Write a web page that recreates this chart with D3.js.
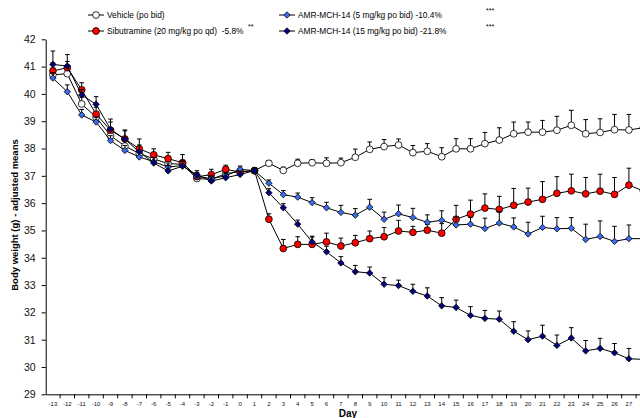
<!DOCTYPE html>
<html>
<head>
<meta charset="utf-8">
<script src="https://cdn.jsdelivr.net/npm/d3@7"></script>
<style>
  body { margin: 0; background: #fff; }
  svg { display: block; font-family: Arial, "Liberation Sans", sans-serif; }
</style>
</head>
<body>
<script>
// days on the x axis (28 is cut off at the right edge)
const days = d3.range(-13, 29);

// adjusted means, one value per day
const vehicle = [40.70, 40.74, 39.63, 39.15, 38.47, 38.09, 37.82, 37.62, 37.45, 37.42,
  36.90, 36.87, 37.08, 37.15, 37.19, 37.46, 37.20, 37.46, 37.48, 37.46,
  37.48, 37.68, 37.97, 38.07, 38.13, 37.85, 37.90, 37.70, 37.99, 37.99,
  38.18, 38.31, 38.54, 38.60, 38.60, 38.67, 38.85, 38.54, 38.59, 38.69, 38.68, 38.76];
const sibutramine = [40.84, 40.96, 40.15, 39.26, 38.67, 38.35, 37.99, 37.77, 37.63, 37.48,
  36.97, 37.04, 37.24, 37.14, 37.19, 35.41, 34.34, 34.49, 34.49, 34.58,
  34.43, 34.55, 34.70, 34.77, 34.98, 34.93, 35.01, 34.90, 35.41, 35.60,
  35.82, 35.77, 35.92, 36.04, 36.14, 36.36, 36.45, 36.34, 36.44, 36.32, 36.66, 36.45];
const amr5 = [40.58, 40.08, 39.23, 38.97, 38.29, 37.93, 37.69, 37.52, 37.32, 37.38,
  36.98, 36.90, 37.00, 37.24, 37.19, 36.73, 36.31, 36.22, 36.02, 35.83,
  35.66, 35.56, 35.85, 35.41, 35.61, 35.47, 35.30, 35.37, 35.20, 35.23,
  35.07, 35.27, 35.13, 34.87, 35.11, 35.06, 35.08, 34.67, 34.78, 34.60, 34.70, 34.70];
const amr15 = [41.08, 41.02, 39.96, 39.62, 38.71, 38.34, 37.88, 37.47, 37.18, 37.35,
  37.04, 36.81, 36.93, 37.05, 37.19, 36.38, 35.83, 35.23, 34.58, 34.22,
  33.81, 33.49, 33.44, 33.03, 32.98, 32.77, 32.60, 32.24, 32.18, 31.89,
  31.78, 31.75, 31.31, 31.00, 31.13, 30.79, 31.06, 30.59, 30.68, 30.52, 30.30, 30.28];

// SEM (upper error bars only)
const vehicleErr = [0.25, 0.30, 0.25, 0.20, 0.20, 0.20, 0.20, 0.20, 0.18, 0.15,
  0.12, 0.12, 0.12, 0.12, 0.10, 0.10, 0.12, 0.15, 0.12, 0.20,
  0.17, 0.30, 0.27, 0.26, 0.22, 0.26, 0.28, 0.33, 0.37, 0.37,
  0.41, 0.45, 0.43, 0.37, 0.43, 0.51, 0.55, 0.52, 0.50, 0.56, 0.57, 0.57];
const sibutramineErr = [0.30, 0.23, 0.26, 0.25, 0.30, 0.30, 0.36, 0.22, 0.23, 0.30,
  0.15, 0.20, 0.15, 0.15, 0.10, 0.20, 0.33, 0.28, 0.30, 0.32,
  0.29, 0.27, 0.28, 0.34, 0.39, 0.22, 0.21, 0.35, 0.51, 0.51,
  0.52, 0.48, 0.62, 0.51, 0.65, 0.61, 0.61, 0.60, 0.62, 0.62, 0.62, 0.60];
const amr5Err = [0.20, 0.25, 0.20, 0.18, 0.18, 0.18, 0.18, 0.15, 0.15, 0.15,
  0.12, 0.12, 0.12, 0.12, 0.10, 0.12, 0.15, 0.15, 0.18, 0.20,
  0.26, 0.24, 0.29, 0.26, 0.32, 0.34, 0.27, 0.35, 0.30, 0.24,
  0.38, 0.43, 0.33, 0.43, 0.41, 0.41, 0.39, 0.56, 0.57, 0.55, 0.50, 0.50];
const amr15Err = [0.49, 0.42, 0.20, 0.28, 0.37, 0.34, 0.25, 0.20, 0.20, 0.20,
  0.15, 0.15, 0.15, 0.12, 0.10, 0.15, 0.15, 0.15, 0.18, 0.20,
  0.23, 0.23, 0.22, 0.24, 0.20, 0.26, 0.30, 0.30, 0.27, 0.32,
  0.29, 0.30, 0.35, 0.32, 0.40, 0.38, 0.38, 0.38, 0.37, 0.34, 0.38, 0.38];

// y tick labels
const yTicks = d3.range(29, 43);

// series list for drawing
const series = [
  { name: 'Vehicle (po bid)', values: vehicle, err: vehicleErr, fill: '#ffffff', shape: 'circle' },
  { name: 'Sibutramine (20 mg/kg po qd)  -5.8%', values: sibutramine, err: sibutramineErr, fill: '#ff0000', shape: 'circle' },
  { name: 'AMR-MCH-14 (5 mg/kg po bid) -10.4%', values: amr5, err: amr5Err, fill: '#3a6cf0', shape: 'diamond' },
  { name: 'AMR-MCH-14 (15 mg/kg po bid) -21.8%', values: amr15, err: amr15Err, fill: '#000080', shape: 'diamond' }
];

const w = 640;
const h = 418;

const svg = d3.select('body')
  .append('svg')
  .attr('width', w)
  .attr('height', h);

// x scale: one band per day, points at band centres
const xScale = d3.scaleBand()
  .domain(days)
  .range([45.7, 45.7 + days.length * 14.4]);

// y scale
const yScale = d3.scaleLinear()
  .domain([29, 42])
  .range([394.3, 39.3]);

const xc = d => xScale(d) + xScale.bandwidth() / 2;

// y axis
const yAxisG = svg.append('g')
  .attr('transform', `translate(${xScale.range()[0]},0)`)
  .call(d3.axisLeft(yScale).tickValues(yTicks).tickSize(4).tickSizeOuter(0).tickPadding(6));
yAxisG.selectAll('text').attr('font-size', 10.5).attr('fill', '#111');

// x axis labels (centred in the bands)
const xAxisG = svg.append('g')
  .attr('transform', `translate(0,${yScale(29)})`)
  .call(d3.axisBottom(xScale).tickSize(0).tickPadding(7));
xAxisG.selectAll('text').attr('font-size', 6).attr('fill', '#111');

// x tick marks at the band edges
xAxisG.selectAll('line.edge')
  .data(days.slice(1))
  .enter()
  .append('line')
  .attr('class', 'edge')
  .attr('x1', d => xScale(d))
  .attr('x2', d => xScale(d))
  .attr('y1', 0)
  .attr('y2', 4)
  .attr('stroke', '#000');

svg.selectAll('.domain').attr('stroke', '#000');

// axis titles
svg.append('text')
  .attr('x', 348)
  .attr('y', 417)
  .attr('text-anchor', 'middle')
  .attr('font-size', 10)
  .attr('font-weight', 'bold')
  .text('Day');

svg.append('text')
  .attr('transform', 'translate(18,215) rotate(-90)')
  .attr('text-anchor', 'middle')
  .attr('font-size', 9.5)
  .attr('font-weight', 'bold')
  .text('Body weight (g) - adjusted means');

const line = d3.line()
  .x((d, i) => xc(days[i]))
  .y(d => yScale(d));

const diamond = d3.symbol().type(d3.symbolDiamond2).size(26);

// one group per series: line, error bars, markers
series.forEach(s => {
  const g = svg.append('g');

  g.append('path')
    .datum(s.values)
    .attr('d', line)
    .attr('fill', 'none')
    .attr('stroke', '#000')
    .attr('stroke-width', 1);

  const bars = g.selectAll('g.err')
    .data(s.values)
    .enter()
    .append('g')
    .attr('class', 'err');
  bars.append('line')
    .attr('x1', (d, i) => xc(days[i]))
    .attr('x2', (d, i) => xc(days[i]))
    .attr('y1', d => yScale(d))
    .attr('y2', (d, i) => yScale(d + s.err[i]))
    .attr('stroke', '#000');
  bars.append('line')
    .attr('x1', (d, i) => xc(days[i]) - 2.3)
    .attr('x2', (d, i) => xc(days[i]) + 2.3)
    .attr('y1', (d, i) => yScale(d + s.err[i]))
    .attr('y2', (d, i) => yScale(d + s.err[i]))
    .attr('stroke', '#000');

  if (s.shape === 'circle') {
    g.selectAll('circle')
      .data(s.values)
      .enter()
      .append('circle')
      .attr('cx', (d, i) => xc(days[i]))
      .attr('cy', d => yScale(d))
      .attr('r', 3.4)
      .attr('fill', s.fill)
      .attr('stroke', '#000')
      .attr('stroke-width', 0.8);
  } else {
    g.selectAll('path.mk')
      .data(s.values)
      .enter()
      .append('path')
      .attr('class', 'mk')
      .attr('d', diamond)
      .attr('transform', (d, i) => `translate(${xc(days[i])},${yScale(d)})`)
      .attr('fill', s.fill)
      .attr('stroke', '#000')
      .attr('stroke-width', 0.8);
  }
});

// legend: two columns, two rows (text squeezed a bit horizontally like the original)
const legendPos = [[96, 15], [96, 31], [287, 15], [287, 31]];
series.forEach((s, i) => {
  const [lx, ly] = legendPos[i];
  const lg = svg.append('g').attr('transform', `translate(${lx},${ly})`);
  lg.append('line')
    .attr('x1', -8).attr('x2', 8)
    .attr('stroke', '#000');
  if (s.shape === 'circle') {
    lg.append('circle').attr('r', 3.4).attr('fill', s.fill).attr('stroke', '#000').attr('stroke-width', 0.8);
  } else {
    lg.append('path').attr('d', diamond).attr('fill', s.fill).attr('stroke', '#000').attr('stroke-width', 0.8);
  }
  lg.append('text')
    .attr('transform', 'translate(11,3.4) scale(0.9,1)')
    .attr('font-size', 9.3)
    .style('white-space', 'pre')
    .text(s.name);
});

// significance stars
svg.append('text').attr('x', 248).attr('y', 29).attr('font-size', 7).text('**');
svg.append('text').attr('x', 486).attr('y', 13).attr('font-size', 7).text('***');
svg.append('text').attr('x', 486).attr('y', 29).attr('font-size', 7).text('***');
</script>
</body>
</html>
